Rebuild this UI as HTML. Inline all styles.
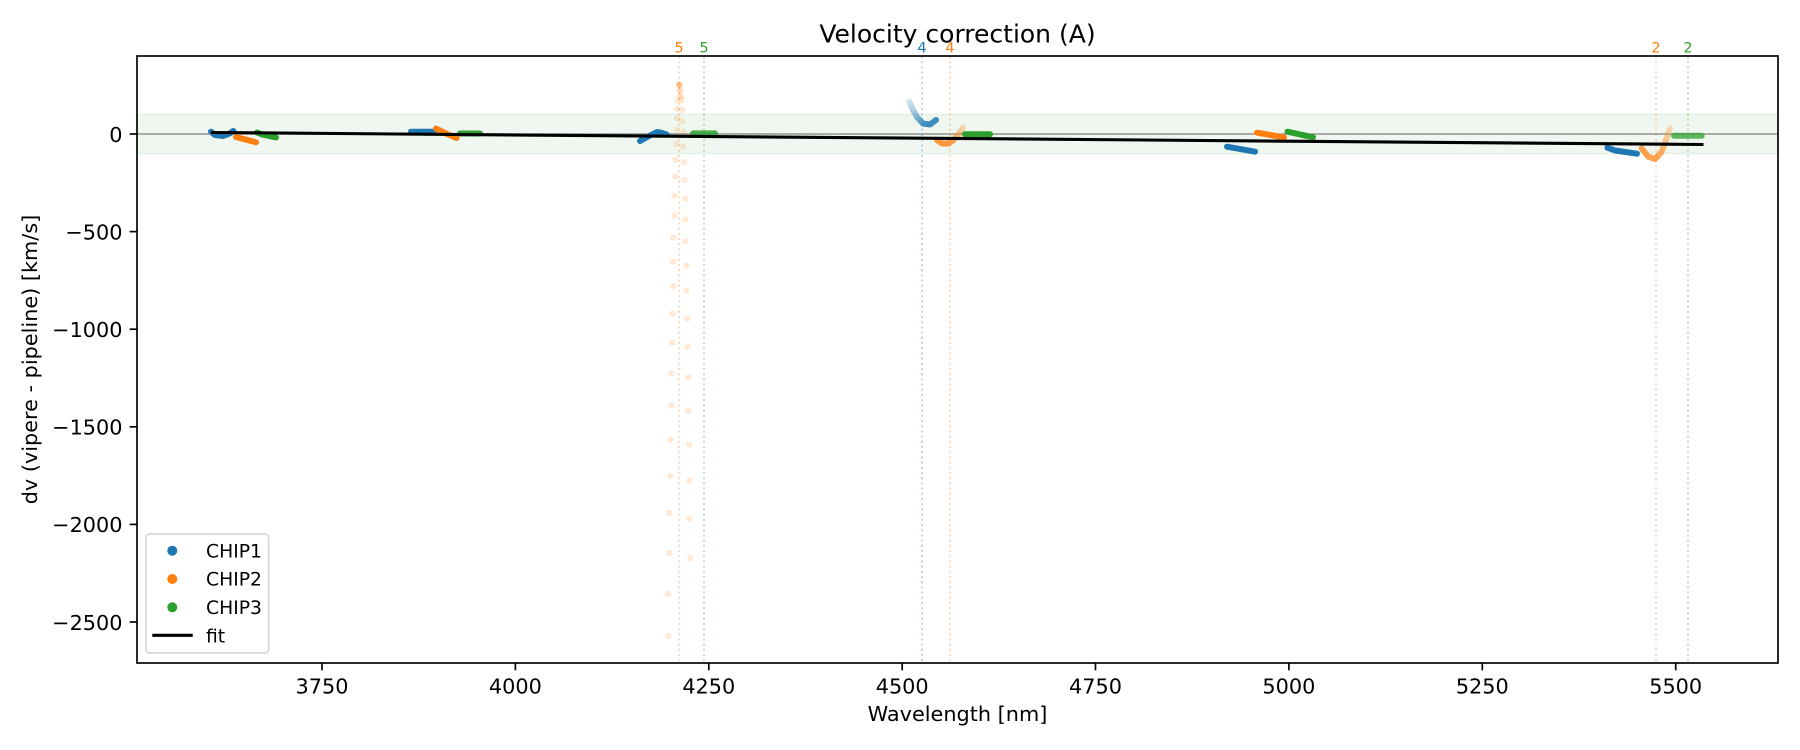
<!DOCTYPE html>
<html>
<head>
<meta charset="utf-8">
<style>
html,body{margin:0;padding:0;background:#fff;}
svg{display:block;}
text{font-family:"DejaVu Sans","Liberation Sans",sans-serif;fill:#000;}
</style>
</head>
<body>
<svg width="1800" height="750" viewBox="0 0 1800 750" xmlns="http://www.w3.org/2000/svg">
<defs>
  <linearGradient id="gB4" gradientUnits="userSpaceOnUse" x1="910" y1="100" x2="925" y2="125">
    <stop offset="0" stop-color="#1f77b4" stop-opacity="0.2"/>
    <stop offset="0.5" stop-color="#1f77b4" stop-opacity="0.45"/>
    <stop offset="1" stop-color="#1f77b4" stop-opacity="0.85"/>
  </linearGradient>
  <linearGradient id="gO4" gradientUnits="userSpaceOnUse" x1="948" y1="143" x2="963" y2="127">
    <stop offset="0" stop-color="#ff7f0e" stop-opacity="0.8"/>
    <stop offset="1" stop-color="#ff7f0e" stop-opacity="0.3"/>
  </linearGradient>
  <linearGradient id="gO6" gradientUnits="userSpaceOnUse" x1="1655" y1="158" x2="1670" y2="128">
    <stop offset="0" stop-color="#ff7f0e" stop-opacity="0.75"/>
    <stop offset="1" stop-color="#ff7f0e" stop-opacity="0.25"/>
  </linearGradient>
</defs>

<rect x="137" y="114.5" width="1641" height="39" fill="#f0f7f0" stroke="#e2f0e2" stroke-width="1.5"/>
<line x1="137" y1="134" x2="1778" y2="134" stroke="#808080" stroke-width="1.2"/>

<g stroke-width="1.5" stroke-dasharray="2,3.2" fill="none">
  <line x1="679" y1="56" x2="679" y2="663" stroke="#ff7f0e" stroke-opacity="0.4"/>
  <line x1="704" y1="56" x2="704" y2="663" stroke="#2ca02c" stroke-opacity="0.4"/>
  <line x1="922" y1="56" x2="922" y2="663" stroke="#1f77b4" stroke-opacity="0.4"/>
  <line x1="950" y1="56" x2="950" y2="663" stroke="#ff7f0e" stroke-opacity="0.4"/>
  <line x1="1656" y1="56" x2="1656" y2="663" stroke="#ff7f0e" stroke-opacity="0.4"/>
  <line x1="1688" y1="56" x2="1688" y2="663" stroke="#2ca02c" stroke-opacity="0.4"/>
</g>

<g fill="#ff7f0e" fill-opacity="0.16">
  <circle cx="679.3" cy="84.9" r="3.2" fill-opacity="0.5"/>
  <circle cx="680" cy="90.6" r="3.2" fill-opacity="0.3"/>
  <circle cx="680.7" cy="96.4" r="3.2" fill-opacity="0.25"/>
  <circle cx="677.3" cy="100.2" r="3.2"/>
  <circle cx="681.7" cy="100.2" r="3.2"/>
  <circle cx="677.3" cy="108.7" r="3.2"/>
  <circle cx="682.3" cy="110.2" r="3.2"/>
  <circle cx="677.3" cy="118.2" r="3.2"/>
  <circle cx="682.3" cy="121.3" r="3.2"/>
  <circle cx="676.7" cy="130.1" r="3.2"/>
  <circle cx="683.3" cy="132" r="3.2"/>
  <circle cx="676.7" cy="144.3" r="3.2"/>
  <circle cx="683.3" cy="146.6" r="3.2"/>
  <circle cx="675.3" cy="159.6" r="3.2"/>
  <circle cx="675.3" cy="176.5" r="3.2"/>
  <circle cx="674.3" cy="195.6" r="3.2"/>
  <circle cx="674.3" cy="215.5" r="3.2"/>
  <circle cx="673.3" cy="237.4" r="3.2"/>
  <circle cx="673.3" cy="261.5" r="3.2"/>
  <circle cx="673.3" cy="286.4" r="3.2"/>
  <circle cx="672.3" cy="313.6" r="3.2"/>
  <circle cx="672.3" cy="342.7" r="3.2"/>
  <circle cx="671.3" cy="373.8" r="3.2"/>
  <circle cx="671.3" cy="405.6" r="3.2"/>
  <circle cx="670.3" cy="439.7" r="3.2"/>
  <circle cx="670.3" cy="475.7" r="3.2"/>
  <circle cx="669.3" cy="512.8" r="3.2"/>
  <circle cx="669.3" cy="553.1" r="3.2"/>
  <circle cx="668.3" cy="594.0" r="3.2"/>
  <circle cx="668.3" cy="635.8" r="3.2"/>
  <circle cx="684.3" cy="162.3" r="3.2"/>
  <circle cx="684.3" cy="179.9" r="3.2"/>
  <circle cx="685.3" cy="198.3" r="3.2"/>
  <circle cx="685.3" cy="219.4" r="3.2"/>
  <circle cx="685.3" cy="241.6" r="3.2"/>
  <circle cx="686.3" cy="265.7" r="3.2"/>
  <circle cx="686.3" cy="290.6" r="3.2"/>
  <circle cx="687.3" cy="318.6" r="3.2"/>
  <circle cx="687.3" cy="346.6" r="3.2"/>
  <circle cx="688.3" cy="377.6" r="3.2"/>
  <circle cx="688.3" cy="410.9" r="3.2"/>
  <circle cx="689.3" cy="444.6" r="3.2"/>
  <circle cx="689.3" cy="480.7" r="3.2"/>
  <circle cx="689.3" cy="518.6" r="3.2"/>
  <circle cx="690.3" cy="558.0" r="3.2"/>
</g>

<g fill="none" stroke-width="6" stroke-linecap="round" stroke-linejoin="round">
  <polyline points="211,131.7 215,135 223,136 230,133.3 233.3,131" stroke="#1f77b4"/>
  <polyline points="236,137 256,142.3" stroke="#ff7f0e"/>
  <polyline points="257,132.5 262,134.5 276,137.5" stroke="#2ca02c"/>
  <polyline points="411,131.7 434,131.7" stroke="#1f77b4"/>
  <polyline points="436,128.5 445,133 456.5,138" stroke="#ff7f0e"/>
  <polyline points="460,133.5 480,133.5" stroke="#2ca02c"/>
  <polyline points="640,141 648,136.5 657,132 662,133 666.5,134.5" stroke="#1f77b4"/>
  <polyline points="693,133.4 715,133.4" stroke="#2ca02c" stroke-opacity="0.85"/>
  <polyline points="909.3,101.7 913,110 917,117 923,123.5 930,124.5 936,120" stroke="url(#gB4)"/>
  <polyline points="937,140 942,143.5 948,143.5 953,140.5 958,135 963,127.5" stroke="url(#gO4)"/>
  <polyline points="965,134.3 990,134.3" stroke="#2ca02c"/>
  <polyline points="1227,146.7 1255,151.7" stroke="#1f77b4"/>
  <polyline points="1257,132.7 1284,137.3" stroke="#ff7f0e"/>
  <polyline points="1287.5,131.7 1313,137.3" stroke="#2ca02c"/>
  <polyline points="1607.5,147.7 1615,150.5 1637,153.7" stroke="#1f77b4"/>
  <polyline points="1641.7,148.3 1648.3,156.7 1655,159 1661.7,151.7 1666,140 1670,128.3" stroke="url(#gO6)"/>
  <polyline points="1674,135.7 1701.7,135.7" stroke="#2ca02c" stroke-opacity="0.75"/>
</g>

<line x1="211" y1="132.5" x2="1703.5" y2="144.5" stroke="#000" stroke-width="3.1"/>

<rect x="137" y="56" width="1641" height="607" fill="none" stroke="#000" stroke-width="1.67"/>

<g stroke="#000" stroke-width="1.67">
  <line x1="129.7" y1="134" x2="137" y2="134"/>
  <line x1="129.7" y1="231.6" x2="137" y2="231.6"/>
  <line x1="129.7" y1="329.2" x2="137" y2="329.2"/>
  <line x1="129.7" y1="426.8" x2="137" y2="426.8"/>
  <line x1="129.7" y1="524.4" x2="137" y2="524.4"/>
  <line x1="129.7" y1="622" x2="137" y2="622"/>
</g>
<g font-size="20.8" text-anchor="end">
  <text x="122.5" y="141.8">0</text>
  <text x="122.5" y="239.4">−500</text>
  <text x="122.5" y="337">−1000</text>
  <text x="122.5" y="434.6">−1500</text>
  <text x="122.5" y="532.2">−2000</text>
  <text x="122.5" y="629.8">−2500</text>
</g>

<g stroke="#000" stroke-width="1.67">
  <line x1="322" y1="663" x2="322" y2="670.3"/>
  <line x1="515.4" y1="663" x2="515.4" y2="670.3"/>
  <line x1="708.8" y1="663" x2="708.8" y2="670.3"/>
  <line x1="902.2" y1="663" x2="902.2" y2="670.3"/>
  <line x1="1095.5" y1="663" x2="1095.5" y2="670.3"/>
  <line x1="1288.9" y1="663" x2="1288.9" y2="670.3"/>
  <line x1="1482.3" y1="663" x2="1482.3" y2="670.3"/>
  <line x1="1675.7" y1="663" x2="1675.7" y2="670.3"/>
</g>
<g font-size="20.8" text-anchor="middle">
  <text x="322" y="693.3">3750</text>
  <text x="515.4" y="693.3">4000</text>
  <text x="708.8" y="693.3">4250</text>
  <text x="902.2" y="693.3">4500</text>
  <text x="1095.5" y="693.3">4750</text>
  <text x="1288.9" y="693.3">5000</text>
  <text x="1482.3" y="693.3">5250</text>
  <text x="1675.7" y="693.3">5500</text>
</g>

<g font-size="14.6" text-anchor="middle">
  <text x="679" y="52.7" style="fill:#ff7f0e">5</text>
  <text x="704" y="52.7" style="fill:#2ca02c">5</text>
  <text x="922" y="52.7" style="fill:#1f77b4">4</text>
  <text x="950" y="52.7" style="fill:#ff7f0e">4</text>
  <text x="1656" y="52.7" style="fill:#ff7f0e">2</text>
  <text x="1688" y="52.7" style="fill:#2ca02c">2</text>
</g>

<text x="957.5" y="42.5" font-size="25" text-anchor="middle">Velocity correction (A)</text>
<text x="957.5" y="721" font-size="20.8" text-anchor="middle">Wavelength [nm]</text>
<text transform="translate(37,359.5) rotate(-90)" font-size="20.8" text-anchor="middle">dv (vipere - pipeline) [km/s]</text>

<rect x="146" y="534" width="122.7" height="119" rx="4" ry="4" fill="#fff" fill-opacity="0.8" stroke="#d6d6d6" stroke-width="1.67"/>
<circle cx="172.3" cy="550.7" r="5" fill="#1f77b4"/>
<circle cx="172.3" cy="579" r="5" fill="#ff7f0e"/>
<circle cx="172.3" cy="607.3" r="5" fill="#2ca02c"/>
<line x1="152.3" y1="635.3" x2="192.7" y2="635.3" stroke="#000" stroke-width="3.1"/>
<g font-size="18.75">
  <text x="206" y="557.3">CHIP1</text>
  <text x="206" y="585.7">CHIP2</text>
  <text x="206" y="614">CHIP3</text>
  <text x="206" y="642.3">fit</text>
</g>
</svg>
</body>
</html>
